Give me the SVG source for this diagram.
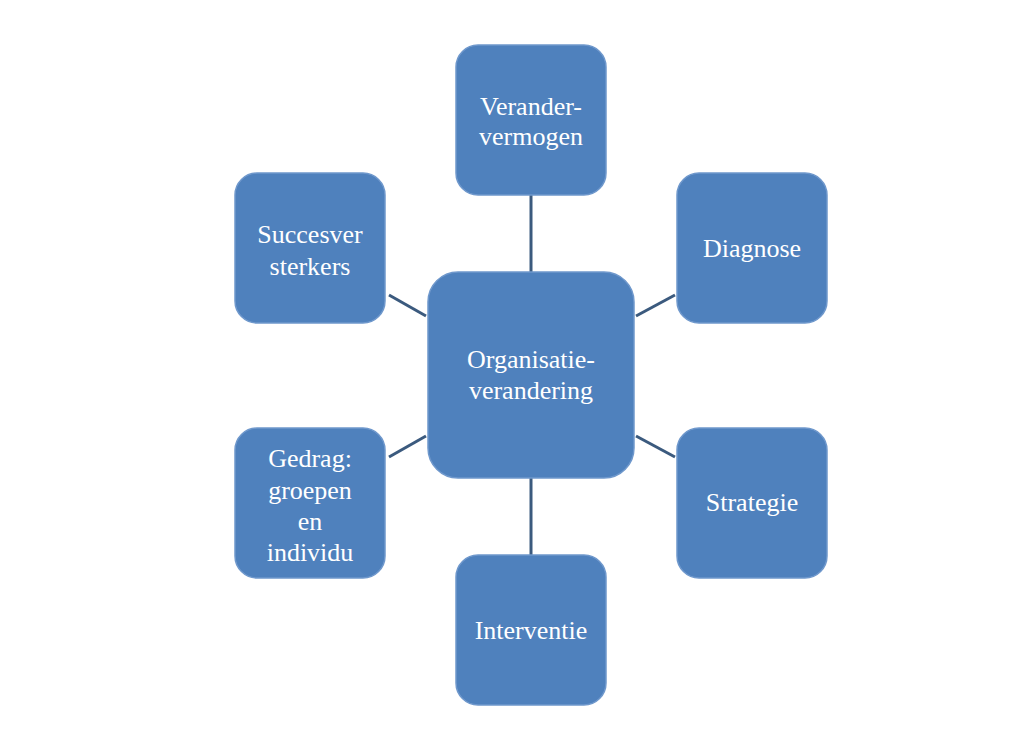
<svg xmlns="http://www.w3.org/2000/svg" width="1034" height="731" viewBox="0 0 1034 731">
<style>
.n{fill:#4f81bd;stroke:#6f98cc;stroke-width:1.5}
.t{font-family:"Liberation Serif",serif;font-size:26px;fill:#fff;text-anchor:middle}
.c line{stroke:#3b5a7e;stroke-width:3}
</style>
<rect width="1034" height="731" fill="#fff"/>
<g class="c">
<line x1="531" y1="195" x2="531" y2="272"/>
<line x1="531" y1="478" x2="531" y2="555"/>
<line x1="636" y1="316" x2="675" y2="295"/>
<line x1="636" y1="436" x2="675" y2="457"/>
<line x1="426" y1="316" x2="389" y2="295"/>
<line x1="426" y1="436" x2="389" y2="457"/>
</g>
<g id="center"><rect class="n" x="428" y="272" width="206" height="206" rx="30"/><text class="t" x="531" y="368">Organisatie-</text><text class="t" x="531" y="399">verandering</text></g>
<g id="top"><rect class="n" x="456" y="45" width="150" height="150" rx="22"/><text class="t" x="531" y="115">Verander-</text><text class="t" x="531" y="145">vermogen</text></g>
<g id="diagnose"><rect class="n" x="677" y="173" width="150" height="150" rx="22"/><text class="t" x="752" y="257">Diagnose</text></g>
<g id="strategie"><rect class="n" x="677" y="428" width="150" height="150" rx="22"/><text class="t" x="752" y="511">Strategie</text></g>
<g id="interventie"><rect class="n" x="456" y="555" width="150" height="150" rx="22"/><text class="t" x="531" y="639">Interventie</text></g>
<g id="gedrag"><rect class="n" x="235" y="428" width="150" height="150" rx="22"/><text class="t" x="310" y="467">Gedrag:</text><text class="t" x="310" y="499">groepen</text><text class="t" x="310" y="530">en</text><text class="t" x="310" y="561">individu</text></g>
<g id="succes"><rect class="n" x="235" y="173" width="150" height="150" rx="22"/><text class="t" x="310" y="243">Succesver</text><text class="t" x="310" y="275">sterkers</text></g>
</svg>
